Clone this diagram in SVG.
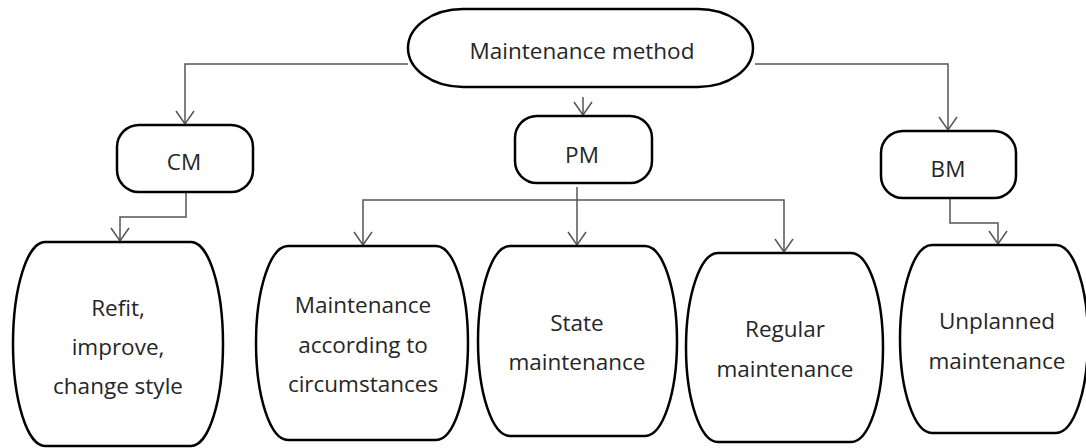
<svg xmlns="http://www.w3.org/2000/svg" width="1086" height="448" viewBox="0 0 1086 448">
<style>
.box{fill:#fff;stroke:#000;stroke-width:2.5}
.t{font-family:"Open Sans","Liberation Sans",sans-serif;font-size:22.5px;fill:#262626;text-anchor:middle}
.c{fill:none;stroke:#555;stroke-width:1.5}
</style>
<defs>
<marker id="v" markerUnits="userSpaceOnUse" orient="auto" refX="0" refY="0" markerWidth="20" markerHeight="20" overflow="visible">
<path d="M-13,-9 L0,0 L-13,9" fill="none" stroke="#555" stroke-width="1.5"/>
</marker>
</defs>
<rect width="1086" height="448" fill="#fff"/>
<g id="connectors">
<path class="c" d="M408,64 H185 V124" marker-end="url(#v)"/>
<path class="c" d="M583,97 V115" marker-end="url(#v)"/>
<path class="c" d="M755,64 H948 V130" marker-end="url(#v)"/>
<path class="c" d="M186,192 V217 H120 V241" marker-end="url(#v)"/>
<path class="c" d="M577,187 V245" marker-end="url(#v)"/>
<path class="c" d="M577,200 H363 V245" marker-end="url(#v)"/>
<path class="c" d="M577,200 H784 V252" marker-end="url(#v)"/>
<path class="c" d="M950,198 V223 H998 V244" marker-end="url(#v)"/>
</g>
<g id="n-method">
<rect class="box" x="408" y="9" width="345" height="78" rx="55" ry="39"/>
<text class="t" x="582" y="59">Maintenance method</text>
</g>
<g id="n-cm">
<rect class="box" x="117" y="125" width="136" height="67" rx="22" ry="22"/>
<text class="t" x="184" y="170">CM</text>
</g>
<g id="n-pm">
<rect class="box" x="515" y="116" width="137" height="67" rx="22" ry="22"/>
<text class="t" x="582" y="163">PM</text>
</g>
<g id="n-bm">
<rect class="box" x="881" y="131" width="135" height="67" rx="22" ry="22"/>
<text class="t" x="948" y="177">BM</text>
</g>
<g id="n-refit">
<rect class="box" x="13" y="242" width="210" height="204" rx="32" ry="102"/>
<text class="t" x="118" y="316">Refit,</text>
<text class="t" x="118" y="355">improve,</text>
<text class="t" x="118" y="394">change style</text>
</g>
<g id="n-circ">
<rect class="box" x="256" y="246" width="212" height="194" rx="32" ry="97"/>
<text class="t" x="363" y="313">Maintenance</text>
<text class="t" x="363" y="353">according to</text>
<text class="t" x="363" y="392">circumstances</text>
</g>
<g id="n-state">
<rect class="box" x="478" y="246" width="199" height="190" rx="32" ry="95"/>
<text class="t" x="577" y="331">State</text>
<text class="t" x="577" y="370">maintenance</text>
</g>
<g id="n-regular">
<rect class="box" x="686" y="253" width="197" height="189" rx="32" ry="94.5"/>
<text class="t" x="785" y="337">Regular</text>
<text class="t" x="785" y="377">maintenance</text>
</g>
<g id="n-unplanned">
<rect class="box" x="900" y="245" width="188" height="188" rx="32" ry="94"/>
<text class="t" x="997" y="329">Unplanned</text>
<text class="t" x="997" y="369">maintenance</text>
</g>
</svg>
